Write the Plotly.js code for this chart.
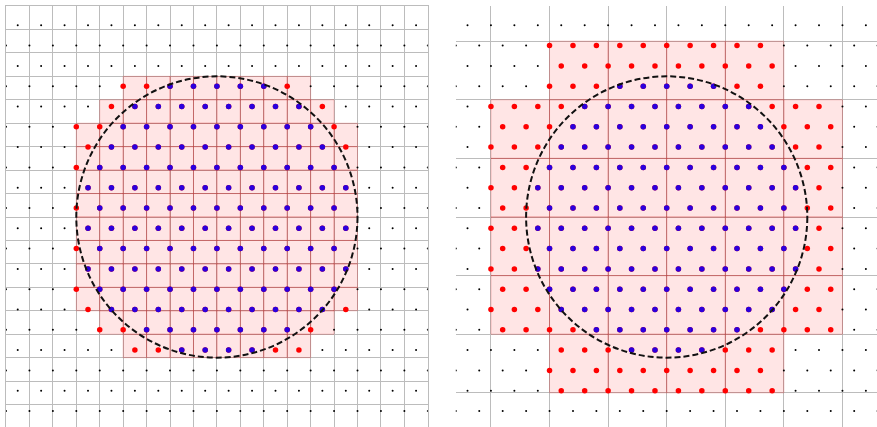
<!DOCTYPE html>
<html>
<head>
<meta charset="utf-8">
<script src="https://cdn.plot.ly/plotly-3.0.1.min.js"></script>
<style>
  html, body { margin: 0; padding: 0; overflow: hidden; background: #ffffff; }
  #chart { width: 878px; height: 428px; }
</style>
</head>
<body>
<div id="chart"></div>
<script>
// Triangular lattice: columns for the unshifted rows, row heights, and per-row half-step shift
const columnX = [-9, -8, -7, -6, -5, -4, -3, -2, -1, 0, 1, 2, 3, 4, 5, 6, 7, 8, 9];
const rowY = [-8.276, -7.410, -6.544, -5.678, -4.812, -3.946, -3.080, -2.214, -1.348, -0.482,
              0.384, 1.250, 2.116, 2.982, 3.848, 4.714, 5.580, 6.446, 7.312, 8.178, 9.044];
const rowShift = [0, 0.5, 0, 0.5, 0, 0.5, 0, 0.5, 0, 0.5, 0, 0.5, 0, 0.5, 0, 0.5, 0, 0.5, 0, 0.5, 0];

// Search circle
const circleCenter = [0, 0];
const circleRadius = 6;

// Cell size of the background grid in each panel
const gridStep = [1, 2.5];

// Highlighted cells, as horizontal bands: [yLow, yHigh, xLow, xHigh]
const cellsLeft = [
  [5, 6, -4, 4],
  [4, 5, -5, 5],
  [-4, 4, -6, 6],
  [-5, -4, -5, 5],
  [-6, -5, -4, 4]
];
const cellsRight = [
  [5, 7.5, -5, 5],
  [-5, 5, -7.5, 7.5],
  [-7.5, -5, -5, 5]
];

const axisRange = [-9, 9];

// ---- build lattice points ----
const latX = [], latY = [];
rowY.forEach((y, j) => {
  columnX.forEach(c => {
    const x = c + rowShift[j];
    if (x <= axisRange[1]) { latX.push(x); latY.push(y); }
  });
});

function inBands(x, y, bands) {
  return bands.some(b => y >= b[0] && y < b[1] && x >= b[2] && x < b[3]);
}

function panelTraces(bands, xa, ya) {
  const other = { x: [], y: [] }, cand = { x: [], y: [] }, inside = { x: [], y: [] };
  latX.forEach((x, k) => {
    const y = latY[k];
    const d = Math.hypot(x - circleCenter[0], y - circleCenter[1]);
    if (inBands(x, y, bands)) {
      cand.x.push(x); cand.y.push(y);
      if (d < circleRadius) { inside.x.push(x); inside.y.push(y); }
    } else {
      other.x.push(x); other.y.push(y);
    }
  });
  const base = { type: 'scatter', mode: 'markers', xaxis: xa, yaxis: ya, hoverinfo: 'skip', showlegend: false, cliponaxis: true };
  return [
    Object.assign({}, base, { x: other.x, y: other.y, marker: { size: 2, color: '#000000', line: { width: 0 } } }),
    Object.assign({}, base, { x: cand.x, y: cand.y, marker: { size: 5.5, color: '#ff0000', line: { width: 0 } } }),
    Object.assign({}, base, { x: inside.x, y: inside.y, marker: { size: 5.5, color: '#2a00dd', line: { width: 0 } } })
  ];
}

function cellShapes(bands, step, xref, yref) {
  const shapes = [];
  bands.forEach(b => {
    for (let y0 = b[0]; y0 < b[1] - 1e-9; y0 += step) {
      for (let x0 = b[2]; x0 < b[3] - 1e-9; x0 += step) {
        shapes.push({
          type: 'rect', xref: xref, yref: yref, layer: 'between',
          x0: x0, x1: x0 + step, y0: y0, y1: y0 + step,
          fillcolor: 'rgba(255,0,0,0.1)',
          line: { color: 'rgba(200,0,0,0.22)', width: 1 }
        });
      }
    }
  });
  return shapes;
}

function circleShape(xref, yref) {
  return {
    type: 'circle', xref: xref, yref: yref, layer: 'above',
    x0: circleCenter[0] - circleRadius, x1: circleCenter[0] + circleRadius,
    y0: circleCenter[1] - circleRadius, y1: circleCenter[1] + circleRadius,
    line: { color: '#111111', width: 2, dash: '6px,3px' }
  };
}

const data = [].concat(panelTraces(cellsLeft, 'x', 'y'), panelTraces(cellsRight, 'x2', 'y2'));

const gridColor = '#bcbcbc';
function axis(extra) {
  return Object.assign({
    range: axisRange, tick0: 0, showticklabels: false, ticks: '',
    showgrid: true, gridcolor: gridColor, gridwidth: 1,
    zeroline: false, showline: false, fixedrange: true
  }, extra);
}

const layout = {
  width: 878, height: 428,
  margin: { l: 6, r: 0, t: 6, b: 0 },
  paper_bgcolor: '#ffffff', plot_bgcolor: '#ffffff',
  showlegend: false,
  xaxis: axis({ domain: [0, 0.48372], dtick: gridStep[0], anchor: 'y', showline: true, mirror: true, linecolor: gridColor }),
  yaxis: axis({ domain: [0, 1], dtick: gridStep[0], anchor: 'x', showline: true, mirror: true, linecolor: gridColor }),
  xaxis2: axis({ domain: [0.51583, 0.99954], dtick: gridStep[1], anchor: 'y2' }),
  yaxis2: axis({ domain: [0, 1], dtick: gridStep[1], anchor: 'x2' }),
  shapes: [].concat(
    cellShapes(cellsLeft, gridStep[0], 'x', 'y'),
    cellShapes(cellsRight, gridStep[1], 'x2', 'y2'),
    [circleShape('x', 'y'), circleShape('x2', 'y2')]
  )
};

Plotly.newPlot('chart', data, layout, { staticPlot: true, displayModeBar: false });
</script>
</body>
</html>
